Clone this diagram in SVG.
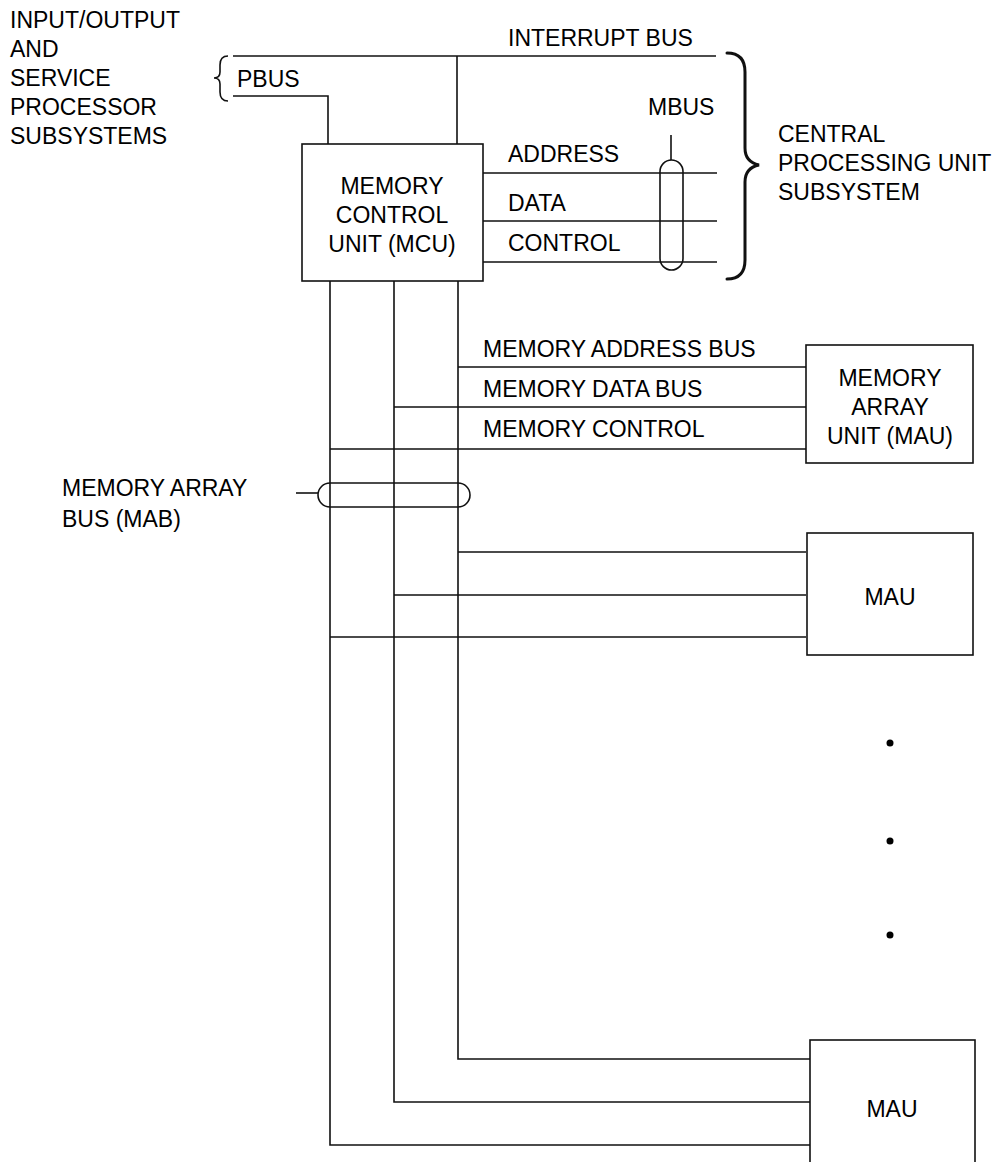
<svg xmlns="http://www.w3.org/2000/svg" width="999" height="1162" viewBox="0 0 999 1162">
<style>
text{font-family:"Liberation Sans",Arial,Helvetica,sans-serif;font-size:23px;fill:#000}
.c{text-anchor:middle}
.ln{fill:none;stroke:#111;stroke-width:1.6}
.box{fill:#fff;stroke:#111;stroke-width:1.6}
.br{fill:none;stroke:#111;stroke-width:3;stroke-linecap:round}
</style>
<rect width="999" height="1162" fill="#fff"/>
<g id="labels">
<text x="10" y="28">INPUT/OUTPUT</text>
<text x="10" y="57">AND</text>
<text x="10" y="86">SERVICE</text>
<text x="10" y="115">PROCESSOR</text>
<text x="10" y="144">SUBSYSTEMS</text>
<text x="237" y="87">PBUS</text>
<text x="508" y="46">INTERRUPT BUS</text>
<text x="648" y="115">MBUS</text>
<text x="508" y="162">ADDRESS</text>
<text x="508" y="211">DATA</text>
<text x="508" y="251">CONTROL</text>
<text x="778" y="142">CENTRAL</text>
<text x="778" y="171">PROCESSING UNIT</text>
<text x="778" y="200">SUBSYSTEM</text>
<text x="483" y="357">MEMORY ADDRESS BUS</text>
<text x="483" y="397">MEMORY DATA BUS</text>
<text x="483" y="437">MEMORY CONTROL</text>
<text x="62" y="496">MEMORY ARRAY</text>
<text x="62" y="527">BUS (MAB)</text>
</g>
<g id="connectors">
<path class="ln" d="M233,56 H716"/>
<path class="ln" d="M233,96 H328 V144"/>
<path class="ln" d="M457,56 V144"/>
<path class="ln" d="M483,173 H717 M483,221 H717 M483,262 H717"/>
<path class="ln" d="M671,135 V160"/>
<rect class="ln" x="660" y="160" width="23" height="110" rx="11.5"/>
<path class="ln" d="M458,281 V1059 H810"/>
<path class="ln" d="M394,281 V1102 H810"/>
<path class="ln" d="M330,281 V1145 H810"/>
<path class="ln" d="M458,367 H806 M394,407 H806 M330,449 H806"/>
<path class="ln" d="M458,552 H806 M394,595 H806 M330,637 H806"/>
<rect class="ln" x="318" y="483" width="152" height="24" rx="12"/>
<path class="ln" d="M296,493 H318"/>
<path class="ln" d="M228,56 Q220,56 220,65 V72 Q220,78 214,78 Q220,78 220,84 V92 Q220,101 228,101"/>
<path class="br" d="M727,53 Q745,53 745,72 V148 Q745,162 759,165 Q745,168 745,182 V260 Q745,279 727,279"/>
</g>
<g id="mcu">
<rect class="box" x="302" y="144" width="181" height="137"/>
<text class="c" x="392" y="194">MEMORY</text>
<text class="c" x="392" y="223">CONTROL</text>
<text class="c" x="392" y="252">UNIT (MCU)</text>
</g>
<g id="mau1">
<rect class="box" x="806" y="345" width="167" height="118"/>
<text class="c" x="890" y="386">MEMORY</text>
<text class="c" x="890" y="415">ARRAY</text>
<text class="c" x="890" y="444">UNIT (MAU)</text>
</g>
<g id="mau2">
<rect class="box" x="807" y="533" width="166" height="122"/>
<text class="c" x="890" y="605">MAU</text>
</g>
<g id="mau3">
<rect class="box" x="810" y="1040" width="165" height="140"/>
<text class="c" x="892" y="1117">MAU</text>
</g>
<g id="dots">
<circle cx="890" cy="743" r="3.5" fill="#000"/>
<circle cx="890" cy="841" r="3.5" fill="#000"/>
<circle cx="890" cy="935" r="3.5" fill="#000"/>
</g>
</svg>
